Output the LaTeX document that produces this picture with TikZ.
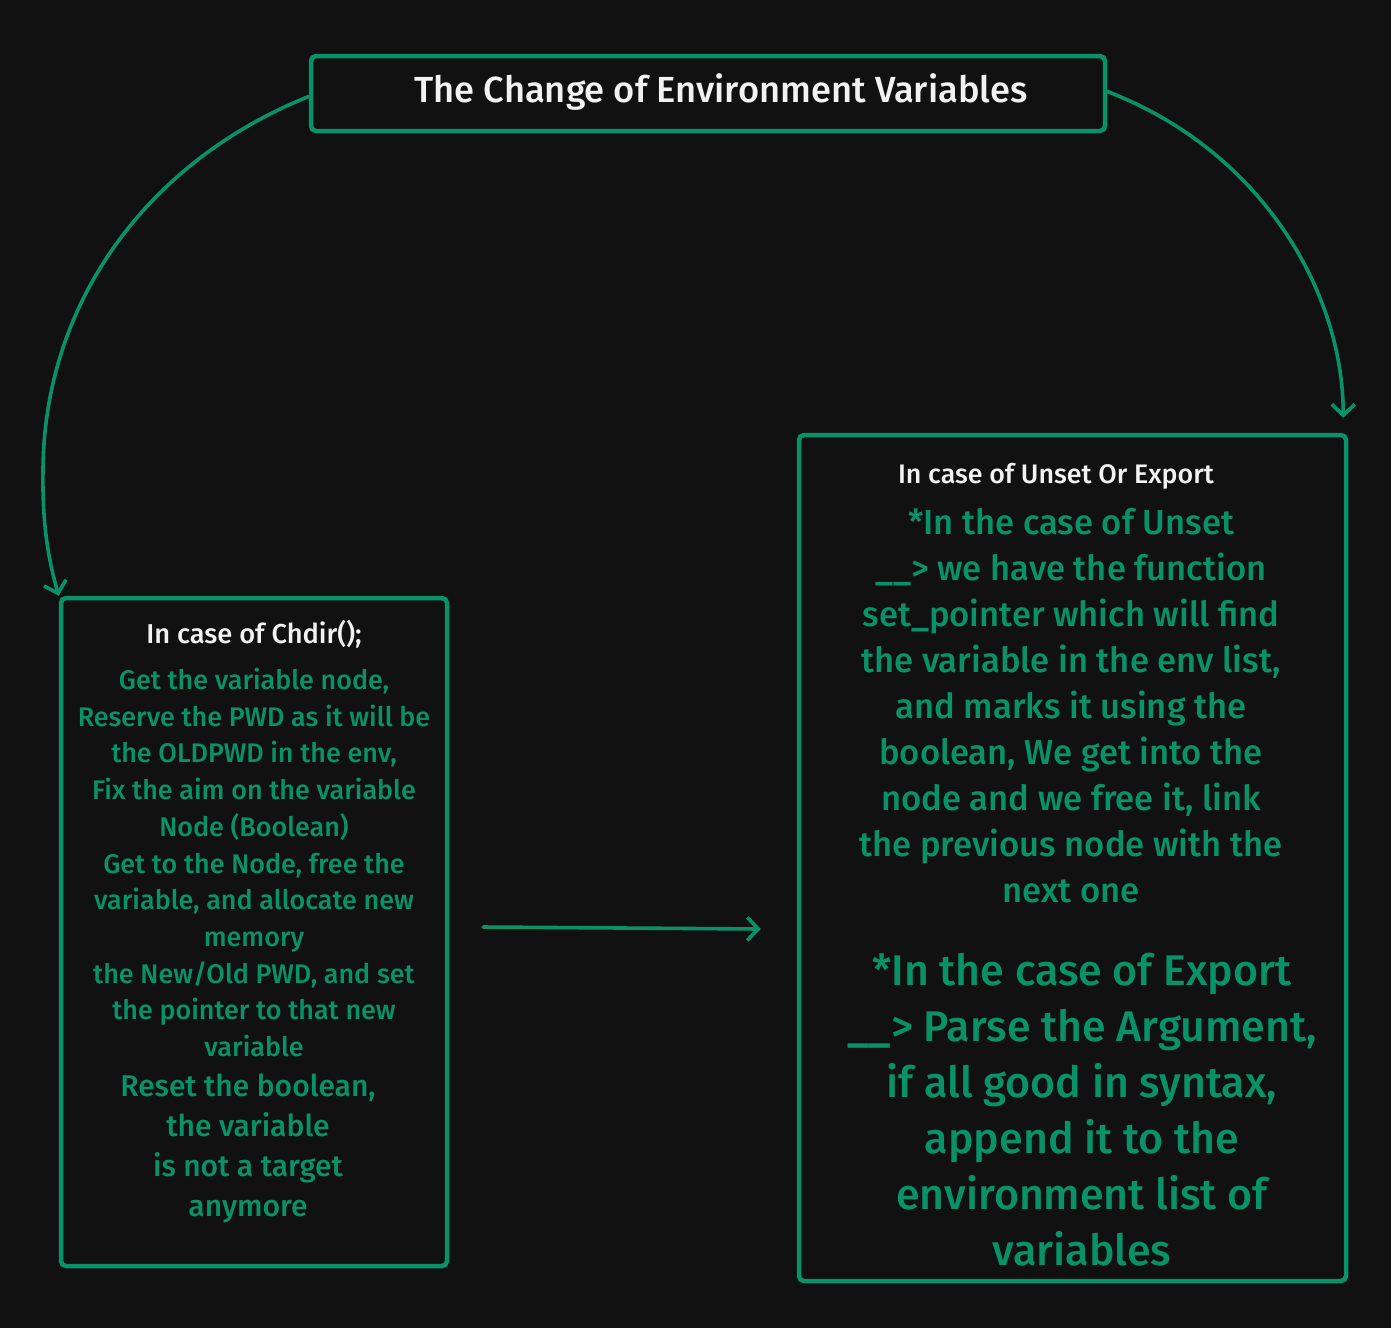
\documentclass[tikz,border=0pt]{standalone}
\usepackage{fontspec}
\setmainfont{Fira Sans}[UprightFont={* Medium}]
\usetikzlibrary{arrows.meta,calc}
\definecolor{bg}{HTML}{111111}
\definecolor{grn}{HTML}{099268}
\definecolor{wht}{HTML}{F2F2F2}
\begin{document}
\begin{tikzpicture}[x=1pt,y=-1pt,
  box/.style={draw=grn,line width=4.5pt,rounded corners=5pt,inner sep=0pt},
  conn/.style={draw=grn,line width=3.6pt,line cap=round,-{Straight Barb[length=11pt,width=23pt,line width=3.6pt]}},
  hdr/.style={text=wht,align=center,inner sep=0pt},
  gtxt/.style={text=grn,align=center,inner sep=0pt}]
\fill[bg] (0,0) rectangle (1391,1328);
\useasboundingbox (0,0) rectangle (1391,1328);
\node[box,minimum width=794pt,minimum height=75pt] (title) at (708,93.5) {};
\node[hdr,font=\fontsize{36.3}{40}\selectfont] (titletext) at (721,92) {The Change of Environment Variables};
\node[box,minimum width=386pt,minimum height=668pt] (chdir) at (254,932) {};
\node[box,minimum width=547pt,minimum height=846pt] (unset) at (1072.5,858) {};
\node[hdr,font=\fontsize{27.3}{30}\selectfont] (chdirhdr) at (254,634) {In case of Chdir();};
\node[gtxt,font=\fontsize{26.9}{36.7}\selectfont] (chdirtxt) at (254,862.5) {Get the variable node,\\Reserve the PWD as it will be\\the OLDPWD in the env,\\Fix the aim on the variable\\Node (Boolean)\\Get to the Node, free the\\variable, and allocate new\\memory\\the New/Old PWD, and set\\the pointer to that new\\variable};
\node[gtxt,font=\fontsize{30}{40}\selectfont] (resettxt) at (248,1148) {Reset the boolean,\\the variable\\is not a target\\anymore};
\node[hdr,font=\fontsize{26.8}{30}\selectfont] (unsethdr) at (1056,476) {In case of Unset Or Export};
\node[gtxt,font=\fontsize{34.6}{46}\selectfont] (unsettxt) at (1071,706) {*In the case of Unset\\\_\_> we have the function\\set\_pointer which will find\\the variable in the env list,\\and marks it using the\\boolean, We get into the\\node and we free it, link\\the previous node with the\\next one};
\node[gtxt,font=\fontsize{42.9}{56}\selectfont] (exporttxt) at (1082,1110) {*In the case of Export\\\_\_> Parse the Argument,\\if all good in syntax,\\append it to the\\environment list of\\variables};
\draw[conn] ($(title.west)+(0,3)$) .. controls (150,160) and (44,300) .. (43,470) .. controls (42,530) and (50,565) .. (chdir.north west);
\draw[conn] ($(title.east)+(0,-2)$) .. controls (1260,150) and (1343,290) .. ($(unset.north east)+(-5,-15)$);
\draw[conn] ($(chdir.east)+(34,-5)$) -- ($(unset.west)+(-36,71)$);
\end{tikzpicture}
\end{document}
